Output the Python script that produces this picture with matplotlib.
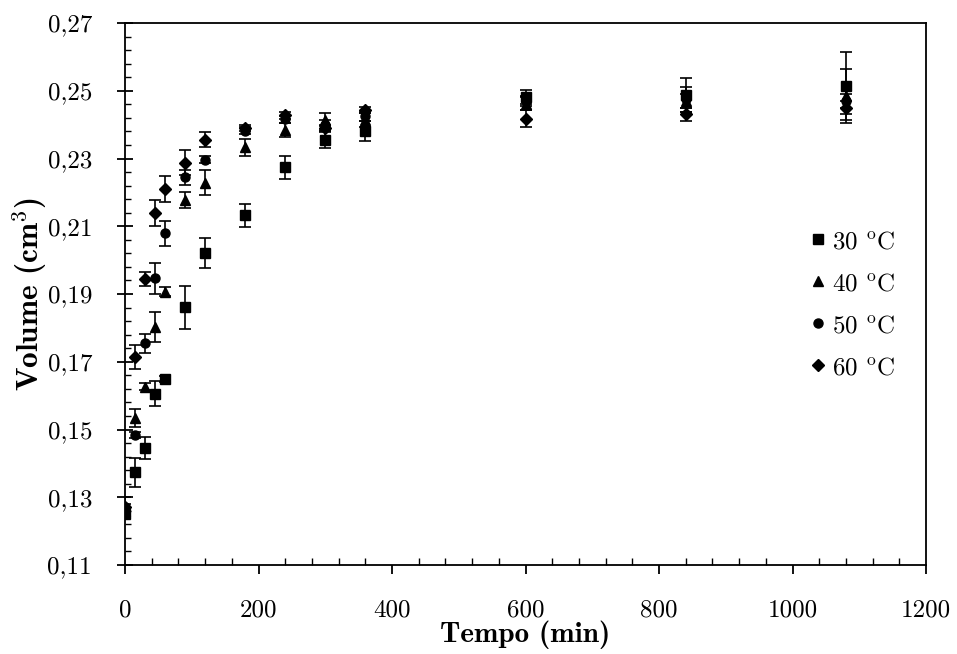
import matplotlib
matplotlib.use("Agg")
import matplotlib.pyplot as plt
from matplotlib.ticker import FixedLocator, MultipleLocator, FuncFormatter
from matplotlib.lines import Line2D
import numpy as np

plt.rcParams['mathtext.fontset'] = 'cm'
plt.rcParams['font.family'] = ['cmr10', 'DejaVu Serif']
plt.rcParams['axes.unicode_minus'] = False

tempo = [0, 15, 30, 45, 60, 90, 120, 180, 240, 300, 360, 600, 840, 1080]

v30 = [0.1250, 0.1374, 0.1446, 0.1605, 0.1649, 0.1861, 0.2021, 0.2132, 0.2274, 0.2355, 0.2381, 0.2481, 0.2487, 0.2514]
e30 = [0.0010, 0.0043, 0.0032, 0.0037, 0.0010, 0.0064, 0.0043, 0.0035, 0.0034, 0.0024, 0.0030, 0.0020, 0.0050, 0.0100]

v40 = [0.1260, 0.1533, 0.1626, 0.1802, 0.1907, 0.2177, 0.2229, 0.2333, 0.2384, 0.2415, 0.2413, 0.2462, 0.2470, 0.2485]
e40 = [0.0010, 0.0027, 0.0010, 0.0044, 0.0014, 0.0024, 0.0036, 0.0026, 0.0020, 0.0020, 0.0020, 0.0020, 0.0020, 0.0080]

v50 = [0.1270, 0.1484, 0.1754, 0.1946, 0.2079, 0.2244, 0.2296, 0.2382, 0.2416, 0.2400, 0.2425, 0.2470, 0.2475, 0.2470]
e50 = [0.0010, 0.0010, 0.0029, 0.0046, 0.0037, 0.0022, 0.0010, 0.0010, 0.0010, 0.0015, 0.0015, 0.0015, 0.0037, 0.0020]

v60 = [0.1270, 0.1715, 0.1944, 0.2139, 0.2209, 0.2288, 0.2355, 0.2390, 0.2428, 0.2390, 0.2443, 0.2418, 0.2430, 0.2450]
e60 = [0.0030, 0.0035, 0.0020, 0.0038, 0.0038, 0.0037, 0.0022, 0.0010, 0.0010, 0.0010, 0.0010, 0.0025, 0.0020, 0.0020]

temps = ['30', '40', '50', '60']
y_major = [0.11, 0.13, 0.15, 0.17, 0.19, 0.21, 0.23, 0.25, 0.27]

fig = plt.figure(figsize=(9.57, 6.54), dpi=100)
ax = fig.add_axes([125/957, 1-565/654, (926-125)/957, (565-23)/654])

series = [(v30, e30, 's', 6.5), (v40, e40, '^', 6.5), (v50, e50, 'o', 6.5), (v60, e60, 'D', 6.0)]
for v, e, m, ms in series:
    ax.errorbar(tempo, v, yerr=e, fmt=m, ms=ms, color='black', ecolor='black',
                elinewidth=1.2, capsize=4.5, capthick=1.2, linestyle='none')

ax.set_xlim(0, 1200)
ax.set_ylim(0.11, 0.27)
ax.xaxis.set_major_locator(MultipleLocator(200))
ax.xaxis.set_minor_locator(MultipleLocator(40))
ax.yaxis.set_major_locator(FixedLocator(y_major))
ax.yaxis.set_minor_locator(FixedLocator(list(np.arange(0.11, 0.2701, 0.004))))
ax.yaxis.set_major_formatter(FuncFormatter(lambda y, p: f"{y:.2f}".replace('.', ',')))
ax.xaxis.set_major_formatter(FuncFormatter(lambda x, p: f"{int(round(x))}"))

for s in ax.spines.values():
    s.set_linewidth(1.3)

ax.tick_params(axis='y', which='major', direction='inout', length=11.5, width=1.3, pad=18, labelsize=18)
ax.tick_params(axis='y', which='minor', direction='in', length=4, width=1.0)
ax.tick_params(axis='x', which='major', direction='out', length=6.7, width=1.3, pad=18, labelsize=18)
ax.tick_params(axis='x', which='minor', direction='in', length=5.3, width=1.0)

ax.set_xlabel('Tempo (min)', family='cmb10', fontsize=21, labelpad=-1)
ax.set_ylabel(r'Volume (cm$^{\mathbf{3}}$)', family='cmb10', fontsize=22.5, labelpad=-2)

handles = [Line2D([], [], marker=m, ms=ms, color='black', linestyle='none') for _, _, m, ms in series]

def make_legend(lbls):
    return ax.legend(handles, lbls, loc='center left', bbox_to_anchor=(0.84, 0.48), frameon=False,
                     fontsize=18, handletextpad=0.15, labelspacing=0.78, handlelength=0.8,
                     borderaxespad=0)

leg = None
for fmt in [r' $\genfrac{}{}{0.6}{2}{\mathrm{o}}{}$C', r' $^{\mathrm{o}}$C']:
    try:
        if leg is not None:
            leg.remove()
        leg = make_legend([t + fmt for t in temps])
        fig.canvas.draw()
        break
    except Exception:
        continue

fig.savefig('out.png', dpi=100)
